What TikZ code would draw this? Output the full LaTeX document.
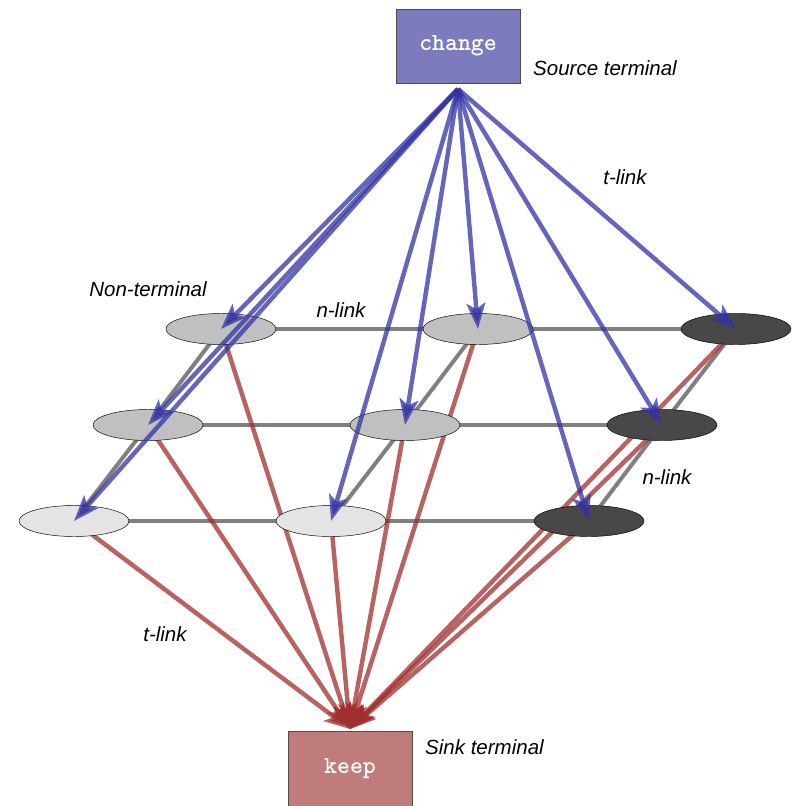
\documentclass[tikz,border=0pt]{standalone}
\usepackage{fontspec}
\setsansfont{Liberation Sans}
\usetikzlibrary{shapes.geometric, arrows.meta, positioning}
\definecolor{srcblue}{RGB}{123,123,189}
\definecolor{sinkred}{RGB}{192,123,123}
\definecolor{tblue}{RGB}{50,50,165}
\definecolor{tred}{RGB}{160,45,45}
\definecolor{pix_light}{RGB}{228,228,228}
\definecolor{pix_mid}{RGB}{192,192,192}
\definecolor{pix_dark}{RGB}{72,72,72}
\tikzset{
  terminal/.style={rectangle,draw=black!70,thin,text=white,font=\ttfamily\bfseries\fontsize{21}{24}\selectfont,minimum width=3.72cm,minimum height=2.22cm},
  pixel/.style={ellipse,draw=black,thin,minimum width=3.3cm,minimum height=0.93cm,inner sep=0pt},
  pixel_l/.style={pixel,fill=pix_light},
  pixel_m/.style={pixel,fill=pix_mid},
  pixel_d/.style={pixel,fill=pix_dark},
  tag/.style={font=\sffamily\itshape\fontsize{17.5}{21}\selectfont,inner sep=0pt},
  nlink/.style={line width=3.4pt,gray},
  tlink/.style={line width=3.8pt,opacity=.75,-{Stealth[length=22pt,width=16pt,inset=5pt]}},
  tlinksrc/.style={tlink,tblue},
  tlinksink/.style={tlink,tred},
}
\pgfdeclarelayer{back}
\pgfdeclarelayer{front}
\pgfsetlayers{back,main,front}

\begin{document}
\begin{tikzpicture}[x=0.3mm,y=-0.3mm]
	    \useasboundingbox (0,0) rectangle (793,806);
	    \node[terminal,fill=srcblue] (src) at (458,46) {change};
	    \node[terminal,fill=sinkred,minimum height=2.28cm] (sink) at (350,769) {keep};
	    \coordinate (s) at (458,89);
	    \coordinate (t) at (350,729);
	    % pixels, back row first
	    \node[pixel_m] (p11) at (221,329) {};
	    \node[pixel_m] (p12) at (478,329) {};
	    \node[pixel_d] (p13) at (736,329) {};
	    \node[pixel_m] (p21) at (148,425) {};
	    \node[pixel_m] (p22) at (405,425) {};
	    \node[pixel_d] (p23) at (662,425) {};
	    \node[pixel_l] (p31) at (74,521) {};
	    \node[pixel_l] (p32) at (331,521) {};
	    \node[pixel_d] (p33) at (589,521) {};
	    % labels
	    \node[tag,anchor=west] (srclbl) at (533,68) {Source terminal};
	    \node[tag,anchor=west] (sinklbl) at (425,747) {Sink terminal};
	    \node[tag] (tl1) at (625,177) {t-link};
	    \node[tag] (tl2) at (165,634) {t-link};
	    \node[tag] (nl1) at (341,310) {n-link};
	    \node[tag] (nl2) at (667,477) {n-link};
	    \node[tag] (ntl) at (148,289) {Non-terminal};
	    \begin{pgfonlayer}{back}
	    \draw (p11.center) edge[nlink] (p12.center);
	    \draw (p12.center) edge[nlink] (p13.center);
	    \draw (p21.center) edge[nlink] (p22.center);
	    \draw (p22.center) edge[nlink] (p23.center);
	    \draw (p31.center) edge[nlink] (p32.center);
	    \draw (p32.center) edge[nlink] (p33.center);
	    \draw (p11.center) edge[nlink] (p21.center);
	    \draw (p21.center) edge[nlink] (p31.center);
	    \draw (p12.center) edge[nlink] (p22.center);
	    \draw (p22.center) edge[nlink] (p32.center);
	    \draw (p13.center) edge[nlink] (p23.center);
	    \draw (p23.center) edge[nlink] (p33.center);
	    \draw (p11.center) edge[tlinksink] (t);
	    \draw (p12.center) edge[tlinksink] (t);
	    \draw (p13.center) edge[tlinksink] (t);
	    \draw (p21.center) edge[tlinksink] (t);
	    \draw (p22.center) edge[tlinksink] (t);
	    \draw (p23.center) edge[tlinksink] (t);
	    \draw (p31.center) edge[tlinksink] (t);
	    \draw (p32.center) edge[tlinksink] (t);
	    \draw (p33.center) edge[tlinksink] (t);
	    \end{pgfonlayer}
	    \begin{pgfonlayer}{front}
	    \draw (s) edge[tlinksrc] (p11.center);
	    \draw (s) edge[tlinksrc] (p12.center);
	    \draw (s) edge[tlinksrc] (p13.center);
	    \draw (s) edge[tlinksrc] (p21.center);
	    \draw (s) edge[tlinksrc] (p22.center);
	    \draw (s) edge[tlinksrc] (p23.center);
	    \draw (s) edge[tlinksrc] (p31.center);
	    \draw (s) edge[tlinksrc] (p32.center);
	    \draw (s) edge[tlinksrc] (p33.center);
	    \end{pgfonlayer}
	\end{tikzpicture}
\end{document}
